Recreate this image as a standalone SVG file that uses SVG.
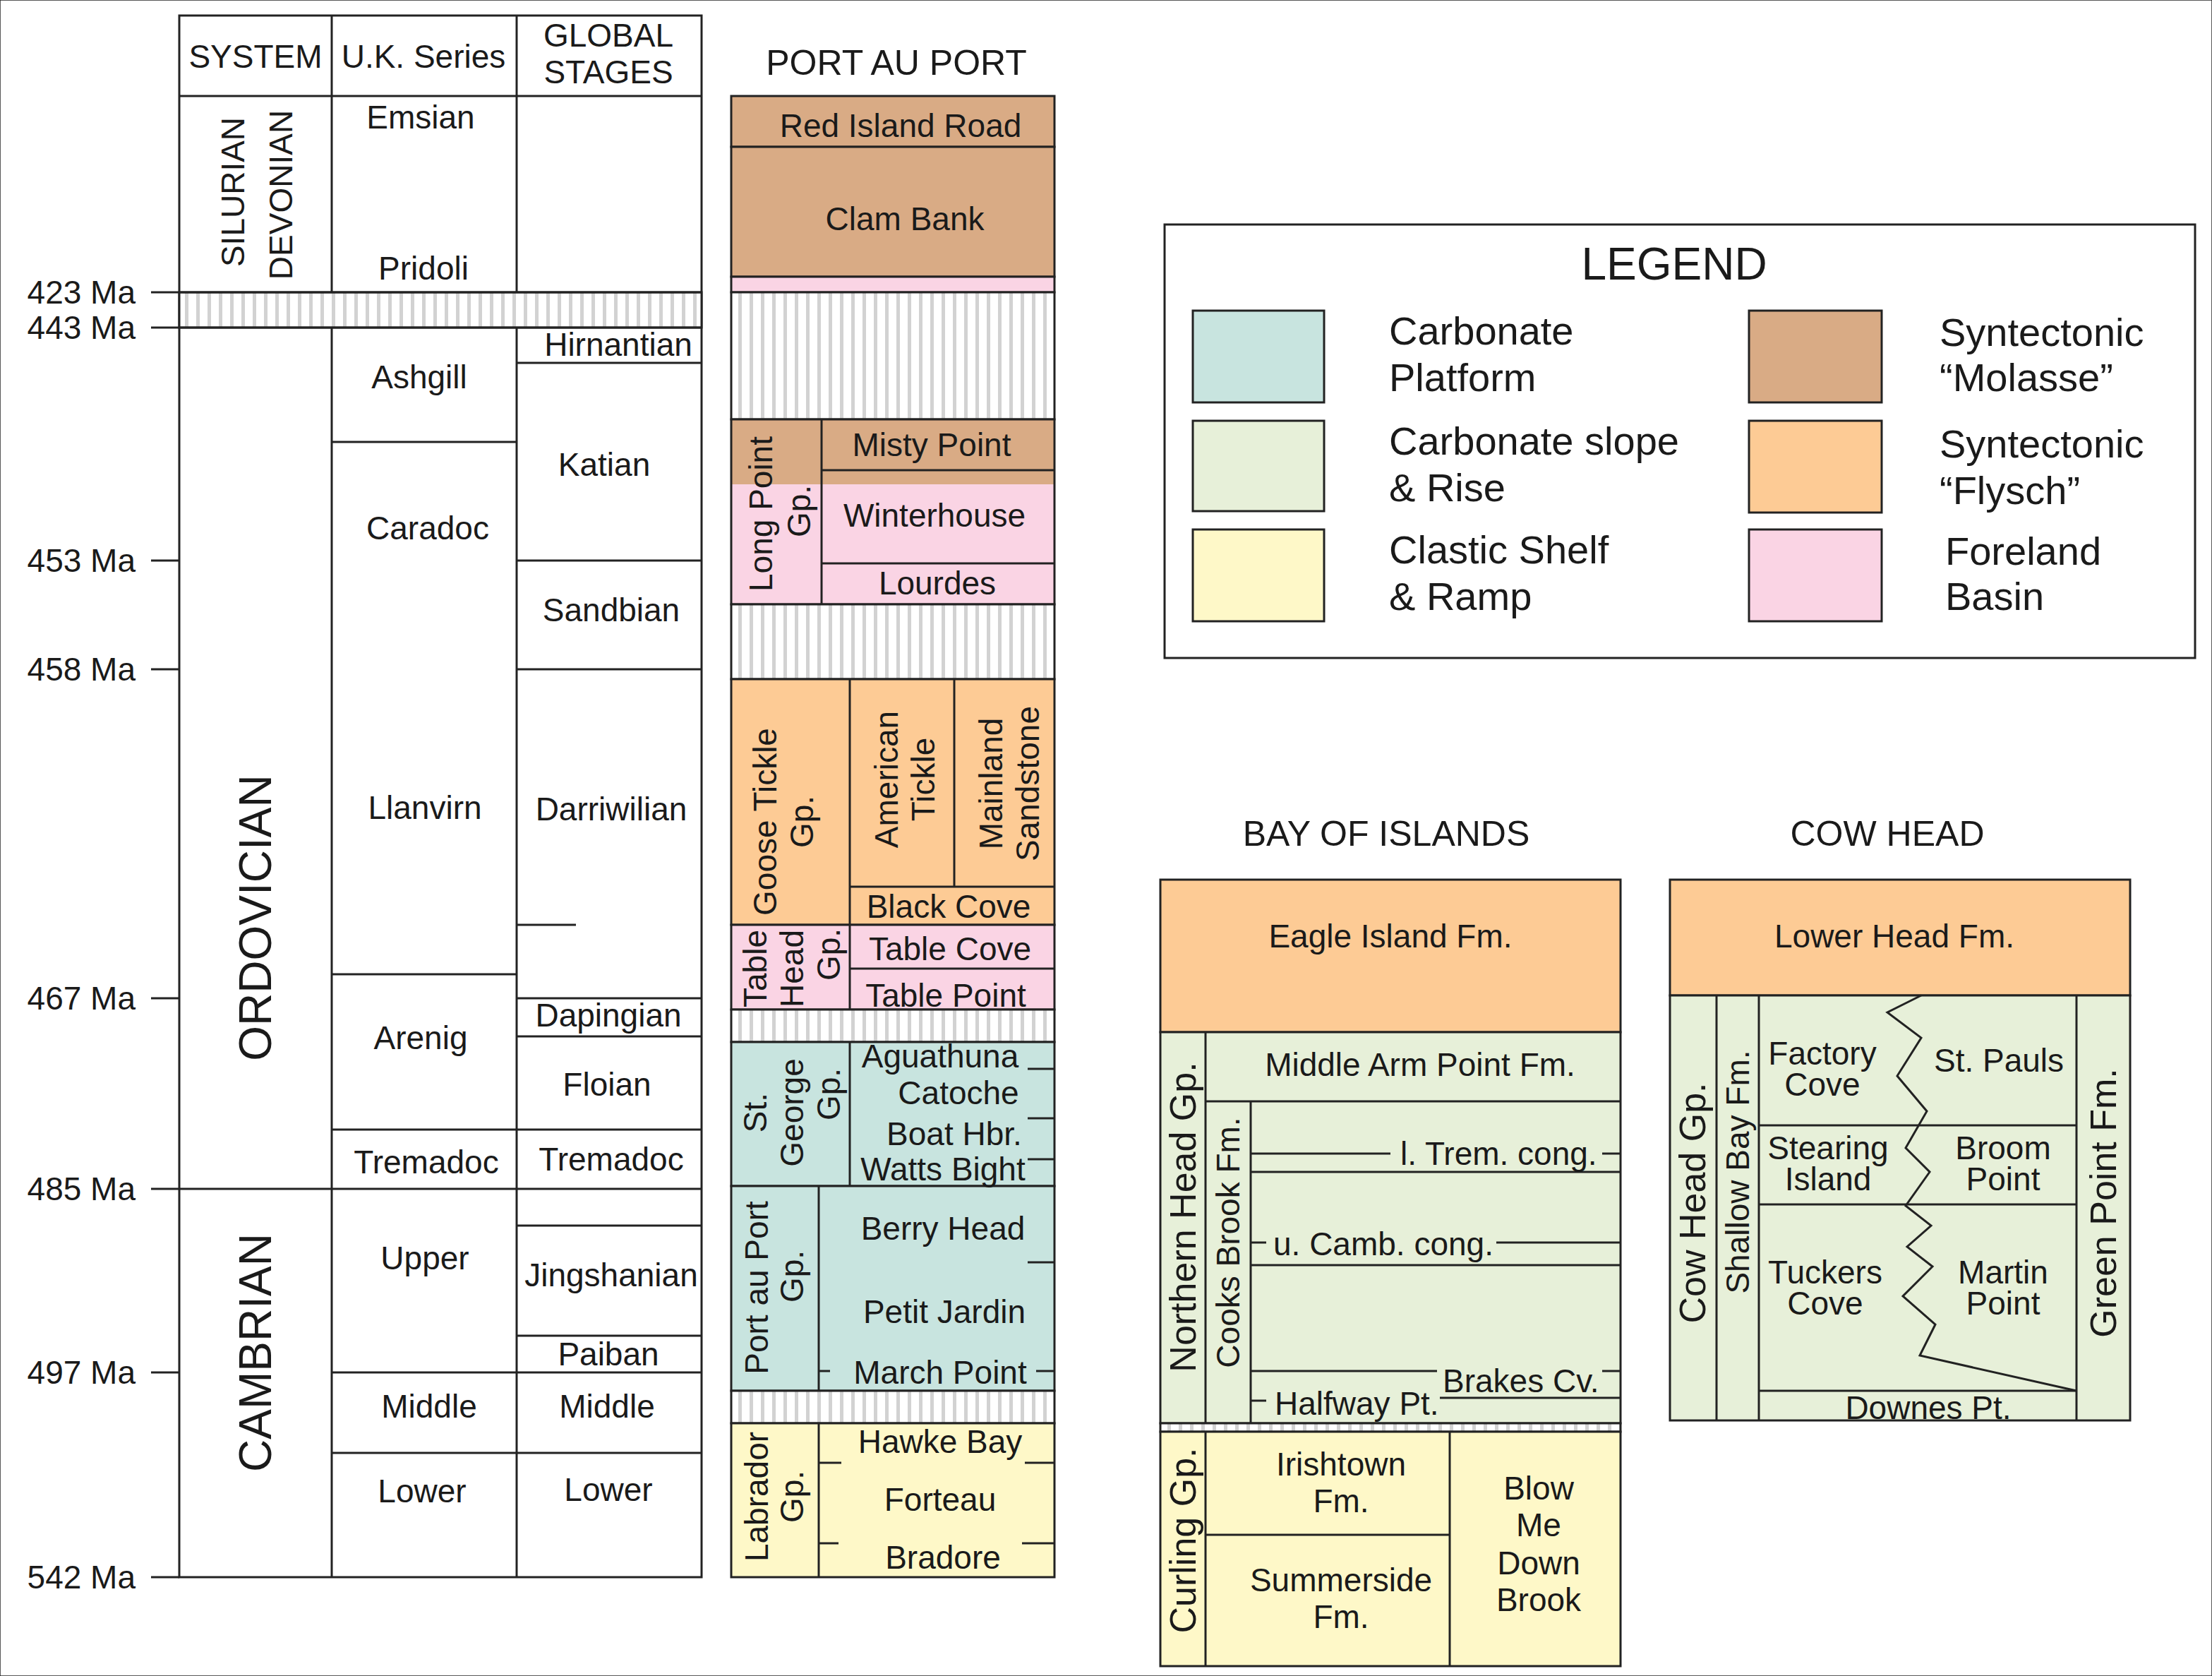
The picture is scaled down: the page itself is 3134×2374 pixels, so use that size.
<svg xmlns="http://www.w3.org/2000/svg" width="3134" height="2374" viewBox="0 0 3134 2374">
<defs>
<pattern id="hatch" patternUnits="userSpaceOnUse" width="8" height="8"><rect width="8" height="8" fill="#fff" style="stroke:none"/><rect x="3" width="2.5" height="8" fill="#d2d2d2" style="stroke:none"/></pattern>
<style>
text{font-family:"Liberation Sans",Arial,sans-serif;fill:#1a1a1a;font-size:23px;text-anchor:middle}
.v{dominant-baseline:central}
.l{text-anchor:start}
.ma{text-anchor:end}
.big{font-size:32px}
.vb{font-size:26px}
.lg{font-size:28px;text-anchor:start}
line,path,rect,polyline{stroke:#222;stroke-width:1.5}
.n{fill:none}
.cp{fill:#c8e4df}.cs{fill:#e7f0d9}.ys{fill:#fef8c8}.mo{fill:#d9ab85}.fl{fill:#fdcb95}.fb{fill:#fad4e4}.h{fill:url(#hatch)}
.nf{stroke:none}
</style>
</defs>
<rect width="3134" height="2374" fill="#fff" stroke="none"/>
<g transform="scale(2)">
<g id="timescale">
<rect x="127" y="11" width="370" height="1106" fill="#fff"/>
<rect x="127" y="207" width="370" height="25" class="h"/>
<line x1="127" y1="68" x2="497" y2="68"/>
<line x1="235" y1="11" x2="235" y2="207"/><line x1="366" y1="11" x2="366" y2="207"/>
<line x1="235" y1="232" x2="235" y2="1117"/><line x1="366" y1="232" x2="366" y2="1117"/>
<line x1="127" y1="207" x2="497" y2="207"/><line x1="127" y1="232" x2="497" y2="232"/>
<line x1="127" y1="842" x2="497" y2="842"/>
<line x1="235" y1="313" x2="366" y2="313"/><line x1="235" y1="690" x2="366" y2="690"/><line x1="235" y1="800" x2="497" y2="800"/>
<line x1="235" y1="972" x2="497" y2="972"/><line x1="235" y1="1029" x2="497" y2="1029"/>
<line x1="366" y1="257" x2="497" y2="257"/><line x1="366" y1="397" x2="497" y2="397"/><line x1="366" y1="474" x2="497" y2="474"/>
<line x1="366" y1="655" x2="408" y2="655"/><line x1="366" y1="707" x2="497" y2="707"/><line x1="366" y1="734" x2="497" y2="734"/>
<line x1="366" y1="868" x2="497" y2="868"/><line x1="366" y1="946" x2="497" y2="946"/>
<g>
<line x1="107" y1="207" x2="127" y2="207"/><line x1="107" y1="232" x2="127" y2="232"/><line x1="107" y1="397" x2="127" y2="397"/><line x1="107" y1="474" x2="127" y2="474"/><line x1="107" y1="707" x2="127" y2="707"/><line x1="107" y1="842" x2="127" y2="842"/><line x1="107" y1="972" x2="127" y2="972"/><line x1="107" y1="1117" x2="127" y2="1117"/>
</g>
<text class="ma" x="96" y="215">423 Ma</text><text class="ma" x="96" y="240">443 Ma</text><text class="ma" x="96" y="405">453 Ma</text><text class="ma" x="96" y="482">458 Ma</text><text class="ma" x="96" y="715">467 Ma</text><text class="ma" x="96" y="850">485 Ma</text><text class="ma" x="96" y="980">497 Ma</text><text class="ma" x="96" y="1125">542 Ma</text>
<text x="181" y="48">SYSTEM</text><text x="300" y="48">U.K. Series</text><text x="431" y="33">GLOBAL</text><text x="431" y="59">STAGES</text>
<text class="v" transform="translate(165,136) rotate(-90)">SILURIAN</text>
<text class="v" transform="translate(199,138) rotate(-90)">DEVONIAN</text>
<text class="v big" transform="translate(181,650) rotate(-90)">ORDOVICIAN</text>
<text class="v big" transform="translate(181,958) rotate(-90)">CAMBRIAN</text>
<text x="298" y="91">Emsian</text><text x="300" y="198">Pridoli</text>
<text x="297" y="275">Ashgill</text><text x="303" y="382">Caradoc</text><text x="301" y="580">Llanvirn</text><text x="298" y="743">Arenig</text><text x="302" y="831">Tremadoc</text>
<text x="301" y="899">Upper</text><text x="304" y="1004">Middle</text><text x="299" y="1064">Lower</text>
<text x="438" y="252">Hirnantian</text><text x="428" y="337">Katian</text><text x="433" y="440">Sandbian</text><text x="433" y="581">Darriwilian</text><text x="431" y="727">Dapingian</text><text x="430" y="776">Floian</text><text x="433" y="829">Tremadoc</text><text x="433" y="911">Jingshanian</text><text x="431" y="967">Paiban</text><text x="430" y="1004">Middle</text><text x="431" y="1063">Lower</text>
</g>
<g id="port-au-port">
<text x="635" y="53" style="font-size:25px">PORT AU PORT</text>
<rect x="518" y="68" width="229" height="36" class="mo"/>
<rect x="518" y="104" width="229" height="92" class="mo"/>
<rect x="518" y="196" width="229" height="11" class="fb"/>
<rect x="518" y="207" width="229" height="90" class="h"/>
<rect x="518" y="297" width="229" height="46" class="mo nf"/>
<rect x="518" y="343" width="229" height="85" class="fb nf"/>
<rect x="518" y="297" width="229" height="131" class="n"/>
<line x1="582" y1="297" x2="582" y2="428"/><line x1="582" y1="333" x2="747" y2="333"/><line x1="582" y1="399" x2="747" y2="399"/>
<rect x="518" y="428" width="229" height="53" class="h"/>
<rect x="518" y="481" width="229" height="174" class="fl"/>
<line x1="602" y1="481" x2="602" y2="655"/><line x1="676" y1="481" x2="676" y2="628"/><line x1="602" y1="628" x2="747" y2="628"/>
<rect x="518" y="655" width="229" height="60" class="fb"/>
<line x1="602" y1="655" x2="602" y2="715"/><line x1="602" y1="686" x2="747" y2="686"/>
<rect x="518" y="715" width="229" height="23" class="h"/>
<rect x="518" y="738" width="229" height="102" class="cp"/>
<line x1="602" y1="738" x2="602" y2="840"/>
<line x1="728" y1="757" x2="747" y2="757"/><line x1="728" y1="792" x2="747" y2="792"/><line x1="728" y1="821" x2="747" y2="821"/>
<rect x="518" y="840" width="229" height="145" class="cp"/>
<line x1="580" y1="840" x2="580" y2="985"/>
<line x1="728" y1="894" x2="747" y2="894"/><line x1="580" y1="971" x2="588" y2="971"/><line x1="734" y1="971" x2="747" y2="971"/>
<rect x="518" y="985" width="229" height="23" class="h"/>
<rect x="518" y="1008" width="229" height="109" class="ys"/>
<line x1="580" y1="1008" x2="580" y2="1117"/>
<line x1="580" y1="1036" x2="596" y2="1036"/><line x1="726" y1="1036" x2="747" y2="1036"/>
<line x1="580" y1="1093" x2="594" y2="1093"/><line x1="724" y1="1093" x2="747" y2="1093"/>
<text x="638" y="97">Red Island Road</text><text x="641" y="163">Clam Bank</text>
<text x="660" y="323">Misty Point</text><text x="662" y="373">Winterhouse</text><text x="664" y="421">Lourdes</text>
<text class="v" transform="translate(539,364) rotate(-90)">Long Point</text><text class="v" transform="translate(566,362) rotate(-90)">Gp.</text>
<text class="v" transform="translate(542,582) rotate(-90)">Goose Tickle</text><text class="v" transform="translate(568,582) rotate(-90)">Gp.</text>
<text class="v" transform="translate(628,552) rotate(-90)">American</text><text class="v" transform="translate(654,552) rotate(-90)">Tickle</text>
<text class="v" transform="translate(702,555) rotate(-90)">Mainland</text><text class="v" transform="translate(728,555) rotate(-90)">Sandstone</text>
<text x="672" y="650">Black Cove</text><text x="673" y="680">Table Cove</text><text x="670" y="713">Table Point</text>
<text class="v" transform="translate(535,686) rotate(-90)">Table</text><text class="v" transform="translate(561,686) rotate(-90)">Head</text><text class="v" transform="translate(587,676) rotate(-90)">Gp.</text>
<text class="v" transform="translate(535,788) rotate(-90)">St.</text><text class="v" transform="translate(561,788) rotate(-90)">George</text><text class="v" transform="translate(587,775) rotate(-90)">Gp.</text>
<text x="666" y="756">Aguathuna</text><text x="679" y="782">Catoche</text><text x="676" y="811">Boat Hbr.</text><text x="668" y="836">Watts Bight</text>
<text class="v" transform="translate(536,912) rotate(-90)">Port au Port</text><text class="v" transform="translate(561,904) rotate(-90)">Gp.</text>
<text x="668" y="878">Berry Head</text><text x="669" y="937">Petit Jardin</text><text x="666" y="980">March Point</text>
<text class="v" transform="translate(536,1060) rotate(-90)">Labrador</text><text class="v" transform="translate(561,1060) rotate(-90)">Gp.</text>
<text x="666" y="1029">Hawke Bay</text><text x="666" y="1070">Forteau</text><text x="668" y="1111">Bradore</text>
</g>
<g id="legend">
<rect x="825" y="159" width="730" height="307" fill="#fff"/>
<text x="1186" y="198" style="font-size:32px">LEGEND</text>
<rect x="845" y="220" width="93" height="65" class="cp"/><rect x="845" y="298" width="93" height="64" class="cs"/><rect x="845" y="375" width="93" height="65" class="ys"/>
<rect x="1239" y="220" width="94" height="65" class="mo"/><rect x="1239" y="298" width="94" height="65" class="fl"/><rect x="1239" y="375" width="94" height="65" class="fb"/>
<text class="lg" x="984" y="244">Carbonate</text><text class="lg" x="984" y="277">Platform</text>
<text class="lg" x="984" y="322">Carbonate slope</text><text class="lg" x="984" y="355">&amp; Rise</text>
<text class="lg" x="984" y="399">Clastic Shelf</text><text class="lg" x="984" y="432">&amp; Ramp</text>
<text class="lg" x="1374" y="245">Syntectonic</text><text class="lg" x="1374" y="277">“Molasse”</text>
<text class="lg" x="1374" y="324">Syntectonic</text><text class="lg" x="1374" y="357">“Flysch”</text>
<text class="lg" x="1378" y="400">Foreland</text><text class="lg" x="1378" y="432">Basin</text>
</g>
<g id="bay-of-islands">
<text x="982" y="599" style="font-size:25px">BAY OF ISLANDS</text>
<rect x="822" y="623" width="326" height="108" class="fl"/>
<rect x="822" y="731" width="326" height="277" class="cs"/>
<line x1="854" y1="731" x2="854" y2="1008"/><line x1="886" y1="780" x2="886" y2="1008"/><line x1="854" y1="780" x2="1148" y2="780"/>
<line x1="886" y1="817" x2="985" y2="817"/><line x1="1135" y1="817" x2="1148" y2="817"/><line x1="886" y1="830" x2="1148" y2="830"/>
<line x1="886" y1="880" x2="897" y2="880"/><line x1="1060" y1="880" x2="1148" y2="880"/><line x1="886" y1="896" x2="1148" y2="896"/>
<line x1="886" y1="971" x2="1018" y2="971"/><line x1="1135" y1="971" x2="1148" y2="971"/>
<line x1="886" y1="992" x2="897" y2="992"/><line x1="1020" y1="990" x2="1148" y2="990"/>
<rect x="822" y="1008" width="326" height="6" class="h"/>
<rect x="822" y="1014" width="326" height="166" class="ys"/>
<line x1="854" y1="1014" x2="854" y2="1180"/><line x1="1027" y1="1014" x2="1027" y2="1180"/><line x1="854" y1="1087" x2="1027" y2="1087"/>
<text x="985" y="671">Eagle Island Fm.</text>
<text x="1006" y="762">Middle Arm Point Fm.</text>
<text class="l" x="992" y="825">l. Trem. cong.</text>
<text class="l" x="902" y="889">u. Camb. cong.</text>
<text class="l" x="1022" y="986">Brakes Cv.</text>
<text class="l" x="903" y="1002">Halfway Pt.</text>
<text class="v vb" transform="translate(838,862) rotate(-90)">Northern Head Gp.</text>
<text class="v" transform="translate(870,880) rotate(-90)">Cooks Brook Fm.</text>
<text class="v vb" transform="translate(838,1091) rotate(-90)">Curling Gp.</text>
<text x="950" y="1045">Irishtown</text><text x="950" y="1071">Fm.</text>
<text x="950" y="1127">Summerside</text><text x="950" y="1153">Fm.</text>
<text x="1090" y="1062">Blow</text><text x="1090" y="1088">Me</text><text x="1090" y="1115">Down</text><text x="1090" y="1141">Brook</text>
</g>
<g id="cow-head">
<text x="1337" y="599" style="font-size:25px">COW HEAD</text>
<rect x="1183" y="623" width="326" height="82" class="fl"/>
<text x="1342" y="671">Lower Head Fm.</text>
<rect x="1183" y="705" width="326" height="301" class="cs"/>
<line x1="1216" y1="705" x2="1216" y2="1006"/><line x1="1246" y1="705" x2="1246" y2="1006"/><line x1="1471" y1="705" x2="1471" y2="1006"/>
<line x1="1246" y1="797" x2="1471" y2="797"/><line x1="1246" y1="853" x2="1471" y2="853"/><line x1="1246" y1="985" x2="1471" y2="985"/>
<polyline class="n" points="1361,705 1337,717 1361,735 1344,762 1365,787 1350,813 1367,830 1350,854 1368,868 1351,883 1369,897 1348,918 1371,938 1360,960 1471,985"/>
<text class="v vb" transform="translate(1199,852) rotate(-90)">Cow Head Gp.</text>
<text class="v" transform="translate(1231,830) rotate(-90)">Shallow Bay Fm.</text>
<text class="v vb" transform="translate(1490,852) rotate(-90)">Green Point Fm.</text>
<text x="1291" y="754">Factory</text><text x="1291" y="776">Cove</text>
<text x="1416" y="759">St. Pauls</text>
<text x="1295" y="821">Stearing</text><text x="1295" y="843">Island</text>
<text x="1419" y="821">Broom</text><text x="1419" y="843">Point</text>
<text x="1293" y="909">Tuckers</text><text x="1293" y="931">Cove</text>
<text x="1419" y="909">Martin</text><text x="1419" y="931">Point</text>
<text x="1366" y="1005">Downes Pt.</text>
</g>
</g>
</svg>
